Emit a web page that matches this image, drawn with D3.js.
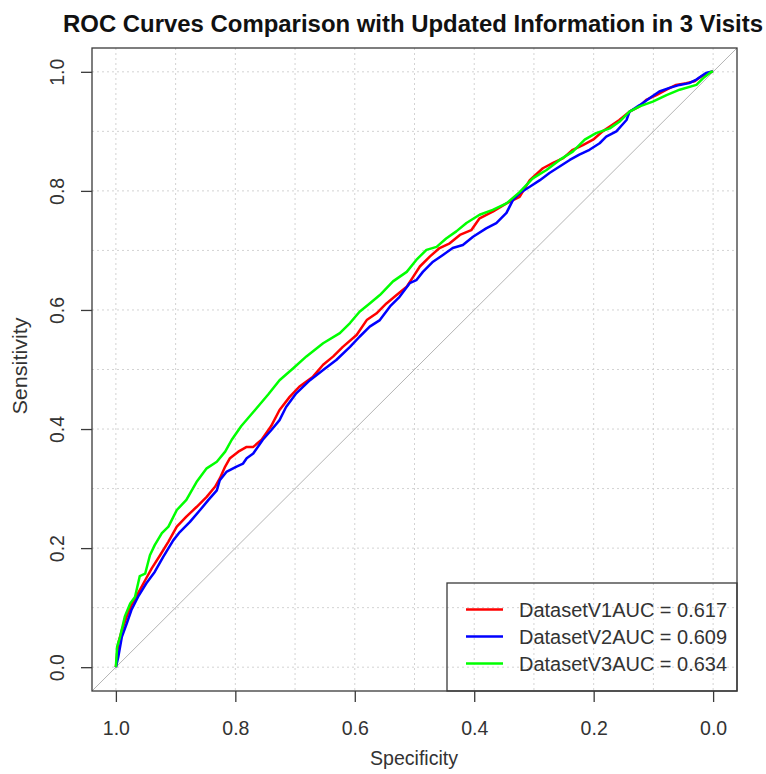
<!DOCTYPE html>
<html>
<head>
<meta charset="utf-8">
<script src="https://cdn.jsdelivr.net/npm/d3@7"></script>
<style>
  body { margin: 0; background: #fff; }
  text { font-family: "Liberation Sans", Arial, sans-serif; }
</style>
</head>
<body>
<script>
// ROC curves, x axis is specificity (reversed), y axis is sensitivity
let width = 766;
let height = 774;

let xTicks = [1.0, 0.8, 0.6, 0.4, 0.2, 0.0];
let yTicks = [0.0, 0.2, 0.4, 0.6, 0.8, 1.0];
let gridValues = [0, 0.1, 0.2, 0.3, 0.4, 0.5, 0.6, 0.7, 0.8, 0.9, 1.0];

let seriesLabels = [
  "DatasetV1AUC = 0.617",
  "DatasetV2AUC = 0.609",
  "DatasetV3AUC = 0.634"
];

// [specificity, sensitivity]
let v1Points = [
  [1.0, 0.0], [0.996, 0.04], [0.99, 0.062], [0.982, 0.085], [0.974, 0.104],
  [0.963, 0.124], [0.951, 0.146], [0.94, 0.166], [0.926, 0.188], [0.912, 0.211],
  [0.898, 0.236], [0.882, 0.253], [0.865, 0.269], [0.848, 0.286], [0.834, 0.303],
  [0.826, 0.317], [0.817, 0.337], [0.809, 0.351], [0.795, 0.362], [0.781, 0.37],
  [0.77, 0.37], [0.756, 0.382], [0.74, 0.405], [0.726, 0.432], [0.709, 0.454],
  [0.693, 0.471], [0.67, 0.488], [0.653, 0.508], [0.636, 0.522], [0.62, 0.538],
  [0.597, 0.558], [0.58, 0.583], [0.564, 0.594], [0.547, 0.611], [0.53, 0.625],
  [0.513, 0.639], [0.502, 0.656], [0.491, 0.673], [0.474, 0.69], [0.458, 0.704],
  [0.441, 0.712], [0.424, 0.726], [0.405, 0.734], [0.391, 0.754], [0.369, 0.765],
  [0.346, 0.779], [0.324, 0.79], [0.307, 0.818], [0.285, 0.838], [0.268, 0.847],
  [0.251, 0.855], [0.235, 0.869], [0.218, 0.877], [0.201, 0.886], [0.185, 0.9],
  [0.173, 0.908], [0.157, 0.919], [0.14, 0.933], [0.123, 0.942], [0.112, 0.953],
  [0.095, 0.961], [0.078, 0.97], [0.062, 0.978], [0.045, 0.981], [0.031, 0.984],
  [0.02, 0.992], [0.003, 1.0], [0.0, 1.0]
];

let v2Points = [
  [1.0, 0.0], [0.996, 0.017], [0.99, 0.051], [0.982, 0.073], [0.974, 0.096],
  [0.963, 0.118], [0.949, 0.141], [0.935, 0.16], [0.921, 0.185], [0.904, 0.213],
  [0.893, 0.227], [0.876, 0.244], [0.859, 0.264], [0.845, 0.281], [0.831, 0.297],
  [0.826, 0.314], [0.815, 0.328], [0.798, 0.337], [0.787, 0.342], [0.781, 0.351],
  [0.77, 0.359], [0.754, 0.382], [0.74, 0.398], [0.726, 0.415], [0.715, 0.437],
  [0.698, 0.46], [0.675, 0.482], [0.653, 0.499], [0.631, 0.516], [0.608, 0.538],
  [0.592, 0.555], [0.575, 0.572], [0.558, 0.583], [0.541, 0.606], [0.525, 0.622],
  [0.508, 0.645], [0.497, 0.65], [0.486, 0.664], [0.469, 0.681], [0.453, 0.692],
  [0.436, 0.704], [0.419, 0.709], [0.402, 0.723], [0.38, 0.737], [0.363, 0.746],
  [0.346, 0.763], [0.335, 0.785], [0.324, 0.796], [0.307, 0.807], [0.29, 0.818],
  [0.274, 0.83], [0.257, 0.841], [0.24, 0.852], [0.224, 0.861], [0.207, 0.869],
  [0.19, 0.88], [0.179, 0.891], [0.162, 0.9], [0.145, 0.919], [0.14, 0.933],
  [0.123, 0.944], [0.106, 0.956], [0.09, 0.967], [0.073, 0.973], [0.056, 0.978],
  [0.04, 0.981], [0.028, 0.987], [0.012, 0.998], [0.003, 1.0], [0.0, 1.0]
];

let v3Points = [
  [1.0, 0.0], [0.998, 0.034], [0.993, 0.051], [0.985, 0.085], [0.976, 0.107],
  [0.968, 0.118], [0.96, 0.153], [0.951, 0.157], [0.943, 0.188], [0.935, 0.205],
  [0.923, 0.225], [0.912, 0.236], [0.898, 0.264], [0.882, 0.281], [0.865, 0.311],
  [0.848, 0.334], [0.831, 0.345], [0.817, 0.362], [0.806, 0.382], [0.79, 0.405],
  [0.767, 0.432], [0.745, 0.458], [0.726, 0.482], [0.703, 0.502], [0.681, 0.522],
  [0.653, 0.544], [0.625, 0.561], [0.608, 0.578], [0.592, 0.597], [0.575, 0.611],
  [0.558, 0.625], [0.536, 0.648], [0.513, 0.664], [0.497, 0.684], [0.48, 0.701],
  [0.463, 0.706], [0.447, 0.72], [0.43, 0.732], [0.413, 0.746], [0.391, 0.76],
  [0.369, 0.768], [0.346, 0.779], [0.324, 0.798], [0.302, 0.821], [0.279, 0.835],
  [0.257, 0.852], [0.235, 0.866], [0.215, 0.886], [0.196, 0.897], [0.173, 0.905],
  [0.157, 0.916], [0.14, 0.933], [0.123, 0.942], [0.101, 0.95], [0.078, 0.961],
  [0.056, 0.97], [0.028, 0.978], [0.017, 0.989], [0.003, 1.0], [0.0, 1.0]
];

let seriesColors = ["#ff0000", "#0000ff", "#00ff00"];
let curveWidth = 2.5;
let axisColor = "#3a3a3a";
let labelSize = 19.5;

let plotLeft = 92;
let plotRight = 737;
let plotTop = 48;
let plotBottom = 691;

let svg = d3
  .select("body")
  .append("svg")
  .attr("width", width)
  .attr("height", height);

let x = d3.scaleLinear().domain([1.04, -0.04]).range([plotLeft, plotRight]);
let y = d3.scaleLinear().domain([-0.04, 1.04]).range([plotBottom, plotTop]);

svg
  .append("clipPath")
  .attr("id", "plot-clip")
  .append("rect")
  .attr("x", plotLeft)
  .attr("y", plotTop)
  .attr("width", plotRight - plotLeft)
  .attr("height", plotBottom - plotTop);

let plot = svg.append("g").attr("clip-path", "url(#plot-clip)");

// dotted grid
plot
  .selectAll(".vgrid")
  .data(gridValues)
  .enter()
  .append("line")
  .attr("x1", function(d) { return x(d); })
  .attr("x2", function(d) { return x(d); })
  .attr("y1", plotTop)
  .attr("y2", plotBottom)
  .attr("stroke", "#d3d3d3")
  .attr("stroke-width", 1)
  .attr("stroke-dasharray", "2,3");

plot
  .selectAll(".hgrid")
  .data(gridValues)
  .enter()
  .append("line")
  .attr("x1", plotLeft)
  .attr("x2", plotRight)
  .attr("y1", function(d) { return y(d); })
  .attr("y2", function(d) { return y(d); })
  .attr("stroke", "#d3d3d3")
  .attr("stroke-width", 1)
  .attr("stroke-dasharray", "2,3");

// chance line, sensitivity = 1 - specificity
plot
  .append("line")
  .attr("x1", x(1.04))
  .attr("y1", y(1 - 1.04))
  .attr("x2", x(-0.04))
  .attr("y2", y(1 + 0.04))
  .attr("stroke", "#b4b4b4")
  .attr("stroke-width", 1);

let line = d3
  .line()
  .x(function(d) { return x(d[0]); })
  .y(function(d) { return y(d[1]); });

let allSeries = [v1Points, v2Points, v3Points];

plot
  .selectAll(".curve")
  .data(allSeries)
  .enter()
  .append("path")
  .attr("d", line)
  .attr("fill", "none")
  .attr("stroke", function(d, i) { return seriesColors[i]; })
  .attr("stroke-width", curveWidth)
  .attr("stroke-linejoin", "round");

// box
svg
  .append("rect")
  .attr("x", plotLeft)
  .attr("y", plotTop)
  .attr("width", plotRight - plotLeft)
  .attr("height", plotBottom - plotTop)
  .attr("fill", "none")
  .attr("stroke", axisColor)
  .attr("stroke-width", 1.3);

// axes
let xAxis = svg
  .append("g")
  .attr("transform", "translate(0," + plotBottom + ")")
  .call(
    d3.axisBottom(x)
      .tickValues(xTicks)
      .tickSize(11)
      .tickSizeOuter(0)
      .tickFormat(d3.format(".1f"))
  );

let yAxis = svg
  .append("g")
  .attr("transform", "translate(" + plotLeft + ",0)")
  .call(
    d3.axisLeft(y)
      .tickValues(yTicks)
      .tickSize(11)
      .tickSizeOuter(0)
      .tickFormat(d3.format(".1f"))
  );

xAxis.select(".domain").remove();
yAxis.select(".domain").remove();

xAxis.selectAll(".tick line").attr("stroke", axisColor).attr("stroke-width", 1.3);
yAxis.selectAll(".tick line").attr("stroke", axisColor).attr("stroke-width", 1.3);

xAxis
  .selectAll(".tick text")
  .attr("y", 44)
  .attr("dy", null)
  .attr("fill", "#333")
  .style("font-size", labelSize + "px")
  .style("font-family", "'Liberation Sans', Arial, sans-serif");

yAxis
  .selectAll(".tick text")
  .attr("transform", "rotate(-90)")
  .attr("x", 0)
  .attr("y", -28)
  .attr("dy", null)
  .attr("fill", "#333")
  .style("text-anchor", "middle")
  .style("font-size", labelSize + "px")
  .style("font-family", "'Liberation Sans', Arial, sans-serif");

// titles
svg
  .append("text")
  .attr("x", 413)
  .attr("y", 32)
  .attr("text-anchor", "middle")
  .attr("textLength", 700)
  .attr("lengthAdjust", "spacingAndGlyphs")
  .style("font-size", "23px")
  .style("font-weight", "bold")
  .attr("fill", "#111")
  .text("ROC Curves Comparison with Updated Information in 3 Visits");

svg
  .append("text")
  .attr("x", 414)
  .attr("y", 765)
  .attr("text-anchor", "middle")
  .attr("textLength", 88)
  .attr("lengthAdjust", "spacingAndGlyphs")
  .style("font-size", labelSize + "px")
  .attr("fill", "#333")
  .text("Specificity");

svg
  .append("text")
  .attr("transform", "translate(27,366) rotate(-90)")
  .attr("text-anchor", "middle")
  .attr("textLength", 97)
  .attr("lengthAdjust", "spacingAndGlyphs")
  .style("font-size", labelSize + "px")
  .attr("fill", "#333")
  .text("Sensitivity");

// legend
let legendLeft = 447;
let legendTop = 583;
let legend = svg.append("g");

legend
  .append("rect")
  .attr("x", legendLeft)
  .attr("y", legendTop)
  .attr("width", plotRight - legendLeft)
  .attr("height", plotBottom - legendTop)
  .attr("fill", "none")
  .attr("stroke", axisColor)
  .attr("stroke-width", 1.3);

let legendRows = legend
  .selectAll(".row")
  .data(seriesLabels)
  .enter()
  .append("g")
  .attr("transform", function(d, i) {
    return "translate(0," + (legendTop + 26.5 + i * 27) + ")";
  });

legendRows
  .append("line")
  .attr("x1", 466)
  .attr("x2", 503)
  .attr("stroke", function(d, i) { return seriesColors[i]; })
  .attr("stroke-width", 2.5);

legendRows
  .append("text")
  .attr("x", 519)
  .attr("y", 7)
  .attr("textLength", 208)
  .attr("lengthAdjust", "spacingAndGlyphs")
  .style("font-size", "20px")
  .attr("fill", "#333")
  .text(function(d) { return d; });
</script>
</body>
</html>
